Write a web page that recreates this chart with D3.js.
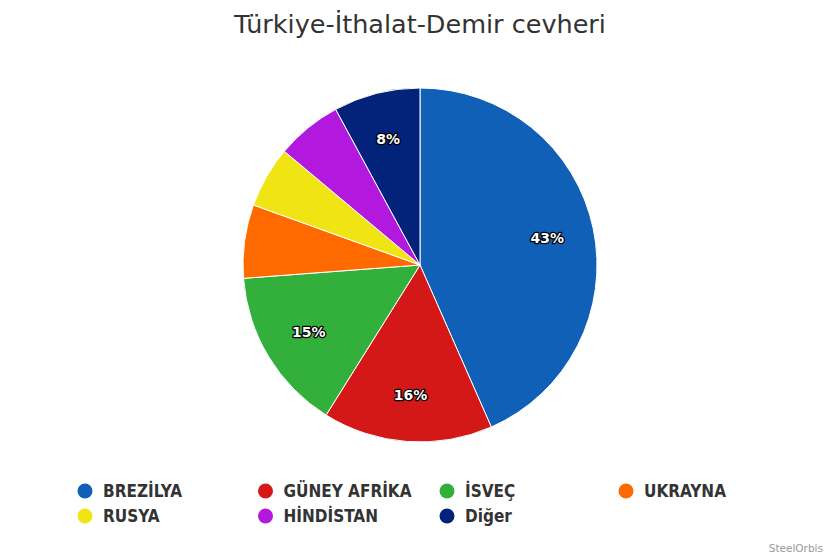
<!DOCTYPE html>
<html>
<head>
<meta charset="utf-8">
<script src="https://cdn.jsdelivr.net/npm/d3@7/dist/d3.min.js"></script>
<style>
html,body{margin:0;padding:0;background:#fff;}
svg{display:block;}
</style>
</head>
<body>
<svg id="chart" width="840" height="560"></svg>
<script>
const categories = ["BREZİLYA", "GÜNEY AFRİKA", "İSVEÇ", "UKRAYNA", "RUSYA", "HİNDİSTAN", "Diğer"];
const values = [43.4, 15.5, 14.9, 6.7, 5.6, 6.0, 7.9];
const labels = ["43%", "16%", "15%", "", "", "", "8%"];
const colors = ["#1060b8", "#d41818", "#33b03b", "#ff6a00", "#f1e414", "#b318de", "#03237a"];
const title = "Türkiye-İthalat-Demir cevheri";

const svg = d3.select("#chart");
const cx = 420, cy = 265, r = 177;

svg.append("text")
  .attr("x", 420).attr("y", 33)
  .attr("text-anchor", "middle")
  .style("font-family", "'DejaVu Sans', Verdana, sans-serif")
  .style("font-size", "25.5px")
  .style("fill", "#333")
  .text(title);

const data = categories.map((c, i) => ({name: c, value: values[i], label: labels[i], color: colors[i]}));
const pie = d3.pie().value(d => d.value).sort(null);
const arc = d3.arc().innerRadius(0).outerRadius(r);
const labelArc = d3.arc().innerRadius(130).outerRadius(130);

const g = svg.append("g").attr("transform", `translate(${cx},${cy})`);
const arcs = pie(data);
g.selectAll("path").data(arcs).enter().append("path")
  .attr("d", arc)
  .attr("fill", d => d.data.color)
  .attr("stroke", "#fff")
  .attr("stroke-width", 1);

g.selectAll("text.lbl").data(arcs.filter(d => d.data.label)).enter().append("text")
  .attr("class", "lbl")
  .attr("transform", d => `translate(${labelArc.centroid(d)})`)
  .attr("text-anchor", "middle")
  .attr("dy", "0.35em")
  .style("font-family", "'DejaVu Sans', sans-serif")
  .style("font-size", "14px")
  .style("font-weight", "bold")
  .style("fill", "#fff")
  .style("stroke", "#000")
  .style("stroke-width", "2.5px")
  .style("paint-order", "stroke")
  .style("stroke-linejoin", "round")
  .text(d => d.data.label);

const colX = [85, 265.5, 447, 626];
const rowY = [491, 516];
const leg = svg.append("g");
data.forEach((d, i) => {
  const x = colX[i % 4], y = rowY[Math.floor(i / 4)];
  leg.append("circle").attr("cx", x).attr("cy", y).attr("r", 7.5).attr("fill", d.color);
  leg.append("text").attr("x", x + 18).attr("y", y + 6)
    .style("font-family", "'DejaVu Sans Condensed', 'DejaVu Sans', sans-serif")
    .style("font-stretch", "condensed")
    .style("font-size", "17px")
    .style("font-weight", "bold")
    .style("fill", "#333")
    .text(d.name);
});

svg.append("text").attr("x", 823).attr("y", 552)
  .attr("text-anchor", "end")
  .style("font-family", "'DejaVu Sans', sans-serif")
  .style("font-size", "10.5px")
  .style("fill", "#999")
  .text("SteelOrbis");
</script>
</body>
</html>
